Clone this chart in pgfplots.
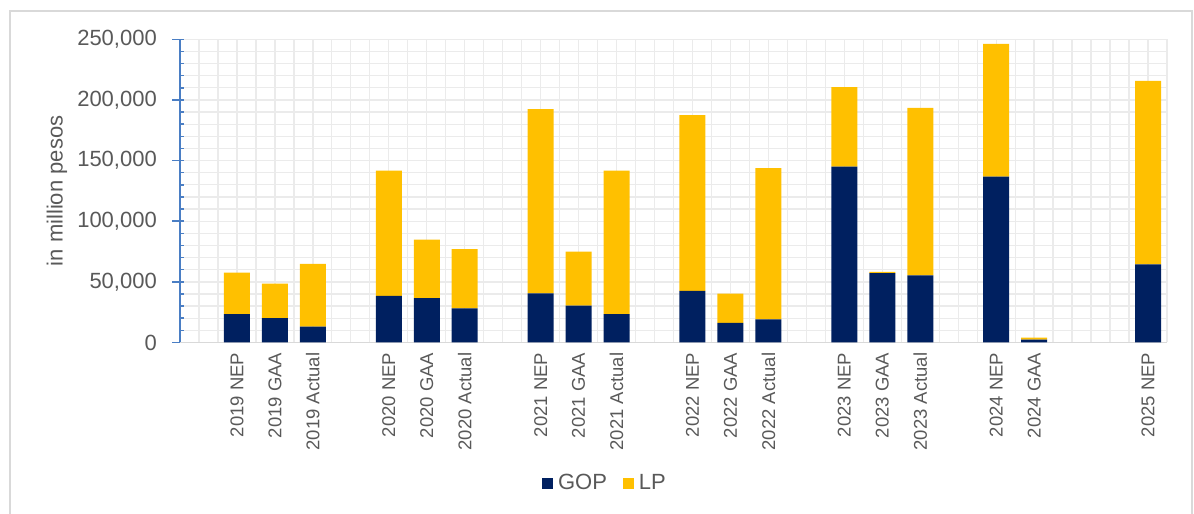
\documentclass[border=0pt]{standalone}
\usepackage{fontspec}
\setmainfont{Liberation Sans}
\usepackage{pgfplots}
\usepackage{pgfplotstable}
\pgfplotsset{compat=1.18}
\definecolor{gop}{HTML}{002060}
\definecolor{lp}{HTML}{FFC000}
\definecolor{gridc}{HTML}{EBEBEB}
\definecolor{axisblue}{HTML}{4A7EC4}
\definecolor{axisgray}{HTML}{D9D9D9}
\definecolor{txt}{HTML}{595959}
\definecolor{framec}{HTML}{D9D9D9}
\pgfplotsset{sqleg/.style={legend image code/.code={\fill[##1] (0bp,-5.5bp) rectangle (11bp,5.5bp);}}}

\pgfplotstableread{
x GOP LP
1 23300 34300
2 20200 28300
3 13000 51800
5 38400 103300
6 36500 48300
7 28200 48700
9 40600 151800
10 30400 44500
11 23300 118400
13 42500 144900
14 16100 24200
15 19100 124600
17 145100 65400
18 57300 900
19 55400 138100
21 136800 109500
22 2300 1700
25 64500 151200
}\budget

\begin{document}
\begin{tikzpicture}
\useasboundingbox (0,0) rectangle (1194bp,514bp);
\begin{axis}[
  at={(180bp,171.5bp)}, anchor=south west,
  scale only axis, width=987bp, height=303.2bp,
  ybar stacked, bar width=26bp,
  xmin=-0.5, xmax=25.5, ymin=0, ymax=250000,
  axis x line*=bottom, axis y line*=left,
  x axis line style={-, draw=axisgray, line width=1.5bp},
  y axis line style={-, draw=axisblue, line width=1.5bp},
  xtick={1,2,3,5,6,7,9,10,11,13,14,15,17,18,19,21,22,25},
  xticklabels={2019 NEP,2019 GAA,2019 Actual,2020 NEP,2020 GAA,2020 Actual,2021 NEP,2021 GAA,2021 Actual,2022 NEP,2022 GAA,2022 Actual,2023 NEP,2023 GAA,2023 Actual,2024 NEP,2024 GAA,2025 NEP},
  minor xtick={-0.5,0,...,25.5},
  xtick style={draw=none},
  minor x tick style={draw=none},
  xmajorgrids=false, xminorgrids=true,
  ymajorgrids=true, yminorgrids=true,
  major grid style={draw=gridc, line width=1.3bp},
  minor grid style={draw=gridc, line width=1.3bp},
  ytick={0,50000,...,250000},
  minor y tick num=4,
  tick align=inside,
  major tick length=4bp, minor tick length=4bp,
  ytick style={draw=axisblue, line width=1.5bp},
  extra y ticks={0,50000,100000,150000,200000,250000},
  extra y tick labels={},
  extra y tick style={grid=none, tick align=outside, major tick length=8bp, ytick style={draw=axisblue, line width=1.5bp}},
  scaled y ticks=false,
  yticklabel style={/pgf/number format/.cd, fixed, 1000 sep={,}, assume math mode=true, /tikz/.cd,
    font=\fontsize{22bp}{26bp}\selectfont, text=txt, inner sep=0pt, anchor=east, xshift=-23bp},
  xticklabel style={font=\fontsize{18.5bp}{22bp}\selectfont, text=txt, rotate=90, anchor=east, inner sep=0pt},
  xticklabel shift=10bp,
  ylabel={in million pesos},
  ylabel style={font=\fontsize{22bp}{26bp}\selectfont, text=txt, at={(axis description cs:-0.1246,0.5)}, anchor=center, rotate=0},
  legend style={at={(axis description cs:0.4306,-0.4634)}, anchor=center, draw=none, fill=none,
    font=\fontsize{22bp}{26bp}\selectfont, text=txt, legend columns=-1,
    /tikz/every odd column/.append style={column sep=3bp},
    /tikz/every even column/.append style={column sep=14bp}},
]
\addplot[fill=gop, draw=none, sqleg] table[x=x, y=GOP] {\budget};
\addplot[fill=lp, draw=none, sqleg] table[x=x, y=LP] {\budget};
\legend{GOP,LP}
\end{axis}
\draw[framec, line width=2bp] (10bp,0bp) -- (10bp,503bp) -- (1192bp,503bp) -- (1192bp,0bp);
\end{tikzpicture}
\end{document}
